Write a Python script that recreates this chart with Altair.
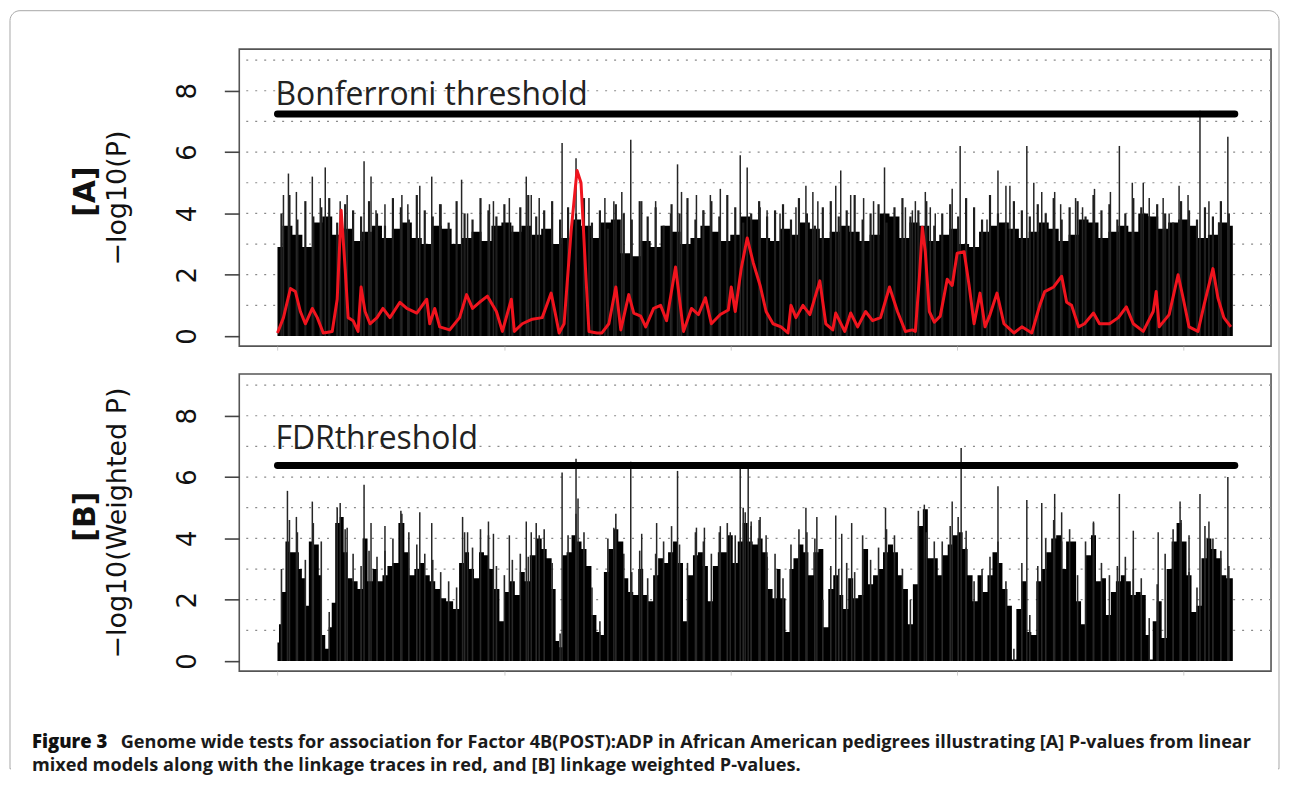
import altair as alt
import pandas as pd

# ---------------- data ----------------
# genome index runs 0..960
x_ticks = [0, 228, 455, 683, 910]
y_ticks = [0, 2, 4, 6, 8]
grid_levels = [1, 2, 3, 4, 5, 6, 7, 8, 9]
bonferroni = 7.24
fdr = 6.38

# [A] solid black envelope, one value every 10 index units
env_a = [2.9, 3.6, 3.3, 2.9, 3.7, 3.9, 3.3, 3.5, 3.1, 3.4,
         3.6, 3.2, 3.5, 3.7, 3.2, 3.0, 3.6, 3.5, 3.0, 3.2,
         3.4, 3.1, 3.6, 3.7, 3.4, 3.6, 3.3, 3.5, 3.0, 3.2,
         3.8, 3.6, 3.2, 3.7, 3.8, 2.7, 2.6, 3.1, 2.9, 3.6,
         3.4, 3.0, 3.2, 3.6, 3.4, 3.1, 3.3, 3.9, 3.8, 3.2,
         3.1, 3.5, 3.3, 3.7, 3.5, 3.2, 3.4, 3.6, 3.4, 3.1,
         3.3, 4.0, 3.9, 3.2, 3.7, 3.6, 3.1, 3.3, 3.5, 3.0,
         2.9, 3.4, 3.6, 3.7, 3.5, 3.2, 3.4, 3.7, 3.5, 3.1,
         3.3, 3.8, 3.7, 3.2, 3.4, 3.6, 3.4, 4.0, 3.9, 3.5,
         3.7, 3.8, 3.6, 3.2, 3.3, 3.7, 3.6]

# [A] dense thin lines above the envelope, one every 8 index units
grass_a = [4.0, 4.6, 3.8, 4.4, 3.9, 4.2, 4.5, 3.7, 4.3, 4.1,
           3.9, 4.4, 4.0, 3.6, 4.5, 4.2, 3.8, 4.6, 4.1, 3.9,
           4.3, 3.7, 4.4, 4.0, 3.8, 4.5, 4.1, 3.9, 4.3, 3.6,
           4.2, 4.6, 3.9, 4.1, 4.4, 3.8, 4.2, 4.0, 4.5, 3.7,
           4.1, 3.5, 4.3, 4.0, 3.8, 4.4, 3.9, 4.2, 3.6, 4.3,
           4.0, 4.5, 3.8, 4.1, 4.4, 3.9, 4.6, 4.2, 3.7, 4.0,
           4.4, 3.9, 4.1, 4.3, 3.8, 4.5, 4.0, 3.6, 4.2, 4.4,
           3.9, 4.1, 4.6, 3.8, 4.0, 4.3, 3.7, 4.2, 4.5, 3.9,
           4.1, 4.4, 3.6, 4.0, 4.3, 3.9, 4.5, 4.2, 3.8, 4.6,
           4.0, 3.7, 4.4, 4.1, 3.9, 4.3, 4.0, 4.5, 3.8, 4.2,
           4.4, 3.9, 4.6, 4.1, 4.3, 3.8, 4.0, 4.5, 4.2, 3.9,
           4.3, 4.0, 3.7, 4.4, 4.1, 3.8, 4.2, 3.9, 4.4, 4.0]

# [A] taller individual spikes
spike_a_x = [6, 11, 19, 35, 43, 48, 63, 70, 87, 94, 99, 108, 125, 131, 143, 155, 163,
             185, 191, 213, 217, 233, 250, 255, 263, 286, 300, 313, 329, 338, 346, 355,
             366, 380, 395, 402, 406, 421, 428, 435, 445, 465, 472, 485, 492, 505, 521,
             531, 538, 543, 561, 566, 576, 589, 599, 610, 631, 638, 641, 651, 656, 661,
             678, 686, 692, 713, 724, 732, 736, 753, 760, 768, 781, 787, 802, 809, 821,
             837, 846, 859, 870, 876, 890, 896, 906, 915, 927, 936, 946, 955]
spike_a_y = [4.6, 5.3, 4.7, 5.2, 4.5, 5.5, 4.4, 4.6, 5.7, 5.2, 4.1, 4.3, 4.6, 4.3, 4.9, 5.2, 4.3,
             5.1, 4.0, 4.3, 4.4, 4.5, 5.2, 4.6, 4.5, 6.3, 5.8, 4.5, 4.5, 4.4, 4.7, 6.4,
             4.4, 4.4, 4.0, 5.6, 4.7, 4.6, 4.1, 4.6, 4.8, 5.9, 5.5, 4.2, 4.1, 4.0, 4.2,
             4.9, 4.7, 4.4, 4.9, 5.4, 4.6, 4.5, 4.4, 5.5, 4.2, 4.1, 4.4, 4.7, 4.2, 4.0,
             4.8, 6.2, 3.8, 3.8, 5.4, 4.9, 4.9, 6.2, 5.0, 4.7, 4.7, 4.3, 4.5, 4.2, 4.8,
             4.7, 6.2, 5.0, 5.0, 4.5, 4.5, 4.0, 4.9, 4.6, 7.35, 4.4, 3.7, 6.5]

# [A] linkage trace (red)
red_x = [0, 6, 13, 18, 23, 28, 35, 40, 46, 55, 60, 64, 68, 71, 76, 81, 84, 88, 93, 100,
         106, 113, 123, 130, 140, 150, 153, 158, 163, 173, 183, 190, 196, 203, 211, 220,
         226, 235, 238, 246, 256, 266, 275, 280, 283, 288, 295, 301, 305, 310, 313, 321,
         326, 333, 340, 345, 353, 358, 365, 370, 378, 385, 391, 400, 408, 416, 423, 430,
         436, 445, 453, 456, 460, 466, 472, 478, 485, 491, 498, 506, 513, 516, 521, 528,
         535, 545, 551, 558, 561, 570, 576, 583, 591, 598, 606, 615, 623, 631, 638, 641,
         645, 648, 651, 655, 660, 666, 673, 678, 683, 690, 695, 700, 706, 711, 716, 723,
         730, 740, 748, 758, 766, 771, 780, 788, 793, 798, 805, 811, 820, 826, 836, 845,
         853, 860, 870, 880, 883, 886, 896, 905, 910, 916, 925, 931, 940, 945, 951, 958]
red_y = [0.1, 0.6, 1.55, 1.45, 0.8, 0.4, 0.9, 0.6, 0.1, 0.15, 1.2, 4.1, 2.2, 0.6, 0.5, 0.15, 1.6, 0.8, 0.4, 0.6,
         0.9, 0.6, 1.1, 0.9, 0.75, 1.2, 0.4, 0.9, 0.3, 0.2, 0.6, 1.35, 0.9, 1.1, 1.3, 0.8,
         0.15, 1.2, 0.15, 0.4, 0.55, 0.6, 1.4, 0.6, 0.1, 0.4, 3.4, 5.4, 5.0, 1.9, 0.15, 0.1,
         0.1, 0.4, 1.6, 0.2, 1.35, 0.75, 0.65, 0.3, 0.9, 1.0, 0.5, 2.25, 0.15, 0.9, 0.7, 1.25,
         0.4, 0.7, 0.85, 1.6, 0.8, 2.2, 3.2, 2.4, 1.65, 0.8, 0.4, 0.3, 0.1, 1.0, 0.6, 1.0,
         0.7, 1.8, 0.4, 0.2, 0.75, 0.15, 0.75, 0.3, 0.8, 0.5, 0.6, 1.6, 0.8, 0.15, 0.2, 0.15,
         1.9, 3.55, 2.75, 0.8, 0.45, 0.65, 1.85, 1.65, 2.7, 2.75, 1.65, 0.4, 1.4, 0.3, 0.7, 1.4,
         0.4, 0.1, 0.3, 0.1, 1.0, 1.45, 1.6, 1.95, 1.1, 1.0, 0.3, 0.4, 0.75, 0.4, 0.4, 0.6,
         0.95, 0.4, 0.15, 0.8, 1.45, 0.3, 0.7, 2.0, 1.25, 0.3, 0.15, 1.0, 2.2, 1.25, 0.6, 0.3]

# [B] profile of the weighted -log10 P bars
prof_b_x = [0, 3, 6, 10, 13, 20, 23, 26, 30, 33, 40, 43, 46, 50, 53, 56, 60, 65, 68, 73,
            78, 83, 88, 93, 98, 103, 108, 113, 118, 125, 130, 135, 140, 145, 150, 156, 161,
            166, 173, 180, 185, 190, 195, 200, 205, 210, 215, 220, 226, 231, 236, 241, 246,
            251, 256, 263, 268, 273, 278, 281, 285, 288, 293, 298, 303, 308, 313, 318, 323,
            326, 330, 335, 340, 345, 350, 355, 360, 365, 370, 375, 380, 385, 390, 395, 400,
            405, 410, 415, 420, 425, 430, 435, 440, 445, 450, 455, 460, 465, 470, 475, 480,
            485, 490, 495, 500, 503, 508, 513, 516, 521, 526, 531, 536, 541, 546, 551, 556,
            561, 566, 571, 576, 581, 586, 591, 596, 601, 606, 611, 616, 621, 626, 631, 636,
            641, 646, 651, 656, 661, 666, 671, 676, 681, 686, 691, 696, 701, 706, 711, 716,
            721, 726, 731, 736, 740, 745, 750, 755, 760, 765, 770, 775, 780, 785, 790, 795,
            800, 805, 810, 815, 820, 825, 830, 835, 840, 845, 850, 855, 860, 865, 870, 875,
            878, 881, 886, 891, 896, 901, 906, 911, 916, 921, 926, 931, 936, 941, 946, 951,
            956, 960]
prof_b_y = [0.6, 1.2, 2.25, 3.9, 3.55, 3.55, 3.0, 2.7, 1.8, 3.9, 3.8, 2.8, 0.85, 0.4, 1.1, 1.9, 4.5, 4.7, 3.55, 2.7,
            2.6, 2.35, 4.0, 2.6, 3.0, 2.6, 2.8, 3.1, 3.2, 4.5, 3.55, 2.8, 3.0, 3.2, 2.8, 2.6, 2.35,
            2.05, 1.95, 1.7, 3.2, 3.55, 3.0, 2.7, 3.55, 3.45, 3.0, 2.35, 1.3, 2.25, 2.6, 2.15, 2.9,
            2.6, 3.45, 4.0, 3.65, 3.35, 2.35, 0.65, 0.45, 3.45, 3.55, 4.1, 3.9, 3.65, 3.1, 1.5, 0.95,
            0.85, 2.9, 3.65, 4.3, 3.9, 2.7, 2.25, 2.15, 3.0, 2.15, 1.95, 2.8, 3.35, 3.2, 3.55, 3.9,
            3.2, 1.3, 2.8, 3.45, 3.55, 3.1, 1.95, 3.1, 3.55, 3.55, 4.1, 3.2, 3.9, 4.5, 3.9, 3.8,
            4.0, 3.55, 2.35, 2.05, 3.0, 2.05, 0.95, 3.0, 3.35, 3.8, 3.55, 2.8, 3.55, 3.65, 1.1, 2.35,
            2.8, 2.15, 1.7, 2.7, 2.05, 2.15, 3.65, 2.5, 2.8, 3.0, 3.55, 3.8, 3.55, 2.8, 2.35, 1.2,
            2.5, 4.4, 4.95, 3.35, 3.35, 2.8, 3.45, 3.8, 4.1, 4.2, 3.65, 2.8, 1.95, 2.8, 2.25, 2.8,
            3.55, 3.2, 2.35, 1.8, 0.05, 1.7, 2.6, 0.95, 0.85, 2.6, 3.0, 3.55, 4.0, 4.1, 3.0, 3.9,
            3.9, 1.95, 1.2, 3.45, 4.1, 2.6, 2.7, 1.5, 2.25, 2.6, 2.8, 2.6, 2.15, 2.25, 2.15, 0.85,
            0.05, 1.3, 1.95, 0.75, 3.0, 3.9, 4.5, 3.9, 2.8, 1.6, 1.8, 3.35, 4.0, 3.65, 3.35, 2.8,
            2.7, 2.7]

# [B] thin lines just above the profile, one every 8 index units
grass_b = [3.0, 4.6, 4.2, 3.3, 4.5, 3.9, 1.6, 5.0, 4.3, 3.5,
           3.1, 3.6, 3.4, 3.6, 4.0, 4.9, 4.2, 3.8, 3.5, 3.3,
           2.9, 2.6, 2.4, 4.2, 3.7, 4.3, 4.1, 3.1, 2.8, 3.3,
           3.5, 3.4, 4.5, 4.3, 3.2, 0.9, 4.1, 4.8, 4.2, 2.4,
           1.3, 4.0, 4.8, 3.5, 2.9, 3.6, 2.7, 3.5, 3.9, 4.4,
           3.8, 3.2, 4.2, 3.9, 3.5, 4.2, 4.5, 4.1, 5.0, 4.4,
           4.6, 3.4, 3.5, 2.7, 3.8, 4.3, 4.2, 4.0, 2.0, 3.1,
           3.0, 3.2, 2.9, 4.1, 3.3, 3.7, 4.3, 4.1, 3.0, 2.0,
           4.9, 4.2, 3.9, 3.9, 4.4, 4.7, 3.7, 2.6, 3.0, 3.4,
           3.9, 2.6, 0.4, 3.2, 1.5, 3.1, 4.0, 4.6, 3.9, 4.3,
           2.8, 3.9, 4.5, 3.2, 2.8, 3.1, 3.4, 3.0, 2.7, 1.4,
           2.5, 3.5, 4.3, 4.6, 2.9, 2.4, 4.4, 4.0, 3.6, 3.1]

# [B] individual spikes
spike_b_x = [10, 19, 35, 63, 70, 87, 94, 108, 125, 143, 155, 186, 191, 212, 217, 233, 250,
             255, 263, 286, 300, 302, 338, 355, 366, 381, 402, 421, 429, 445, 455, 465, 470,
             473, 476, 485, 491, 531, 542, 561, 567, 577, 611, 650, 678, 687, 692, 724, 753,
             768, 781, 788, 820, 846, 860, 885, 907, 916, 927, 936, 955]
spike_b_y = [5.55, 4.7, 5.2, 5.15, 4.35, 5.75, 4.5, 4.4, 4.8, 4.85, 4.5, 4.7, 4.2, 4.55, 4.15, 4.1, 4.55,
             4.2, 4.1, 6.15, 6.6, 5.3, 4.35, 6.5, 4.15, 4.5, 6.2, 4.35, 4.35, 4.4, 4.2, 6.3, 4.85,
             6.35, 4.55, 4.7, 4.1, 5.0, 4.7, 4.75, 4.15, 4.5, 5.0, 5.1, 5.2, 6.95, 4.25, 5.7, 5.25,
             5.15, 5.45, 4.85, 4.55, 5.45, 4.25, 4.2, 5.2, 4.1, 5.45, 4.55, 6.0]

caption_1a = "Figure 3"
caption_1b = ("Genome wide tests for association for Factor 4B(POST):ADP in African American "
              "pedigrees illustrating [A] P-values from linear")
caption_2 = "mixed models along with the linkage traces in red, and [B] linkage weighted P-values."

# ---------------- chart ----------------
W, H = 1035, 298
xs = alt.Scale(domain=[-38.4, 998.4], nice=False, zero=False)
ys = alt.Scale(domain=[-0.33, 9.36], nice=False, zero=False)

x_axis = alt.Axis(values=x_ticks, labels=False, title=None, grid=False, domain=False,
                  ticks=True, tickSize=4, tickColor="#cfcfcf", tickWidth=1)


def y_axis(title):
    return alt.Axis(values=y_ticks, title=title, grid=False, domain=False,
                    tickSize=15, tickWidth=1.6, tickColor="#444",
                    labelFont="DejaVu Sans", labelFontSize=26, labelAngle=270,
                    labelAlign="center", labelBaseline="alphabetic", labelPadding=29,
                    labelColor="#111", labelOverlap=False,
                    titleFont="DejaVu Sans", titleFontSize=27, titleFontWeight="normal",
                    titleColor="#111", titlePadding=43)


def panel(title, tag, env_df, env_interp, lines, red_df, thr, thr_text, thr_text_y,
          extras_before=None, extras_after=None):
    ya = y_axis(title)
    X = alt.X("x:Q", scale=xs, axis=x_axis)
    Y = alt.Y("y:Q", scale=ys, axis=ya)

    layers = []
    if extras_before:
        layers += extras_before
    grid = alt.Chart(pd.DataFrame({"y": grid_levels})).mark_rule(
        color="#8a8a8a", strokeWidth=1.2, strokeDash=[2, 7]).encode(y=Y)
    layers.append(grid)
    env = alt.Chart(env_df).mark_area(color="black", interpolate=env_interp).encode(
        x=X, y=Y, y2=alt.datum(0))
    layers.append(env)
    for df, w, c in lines:
        layers.append(alt.Chart(df).mark_rule(color=c, strokeWidth=w).encode(
            x=X, y=Y, y2=alt.datum(0)))
    if red_df is not None:
        layers.append(alt.Chart(red_df).mark_line(color="#f0141e", strokeWidth=3,
                                                  strokeJoin="round").encode(x=X, y=Y))
    thr_df = pd.DataFrame({"x": [0], "x2": [962], "y": [thr]})
    layers.append(alt.Chart(thr_df).mark_rule(color="black", strokeWidth=7, strokeCap="round").encode(
        x=X, x2="x2:Q", y=Y))
    txt_df = pd.DataFrame({"x": [-2], "y": [thr_text_y], "t": [thr_text]})
    layers.append(alt.Chart(txt_df).mark_text(font="Open Sans", fontSize=32, align="left",
                                              baseline="alphabetic", color="#222").encode(
        x=X, y=Y, text="t:N"))
    tag_df = pd.DataFrame({"t": [tag]})
    layers.append(alt.Chart(tag_df).mark_text(font="DejaVu Sans", fontSize=30, fontWeight="bold",
                                              angle=270, align="center", baseline="middle",
                                              color="#111").encode(
        x=alt.value(-154), y=alt.value(143), text="t:N"))
    if extras_after:
        layers += extras_after
    return alt.layer(*layers).properties(width=W, height=H)


env_a_df = pd.DataFrame({"x": [10 * i for i in range(len(env_a))], "y": env_a})
grass_a_df = pd.DataFrame({"x": [4 + 8 * i for i in range(len(grass_a))], "y": grass_a})
spike_a_df = pd.DataFrame({"x": spike_a_x, "y": spike_a_y})
red_df = pd.DataFrame({"x": red_x, "y": red_y})
prof_b_df = pd.DataFrame({"x": prof_b_x, "y": prof_b_y})
grass_b_df = pd.DataFrame({"x": [4 + 8 * i for i in range(len(grass_b))], "y": grass_b})
spike_b_df = pd.DataFrame({"x": spike_b_x, "y": spike_b_y})

one = pd.DataFrame({"t": [""]})
border = alt.Chart(one).mark_rect(fillOpacity=0, stroke="#a8a8a8", strokeWidth=1,
                                  cornerRadiusTopLeft=10, cornerRadiusTopRight=10).encode(
    x=alt.value(-230), x2=alt.value(1043), y=alt.value(-38.5), y2=alt.value(722))
border_cut = alt.Chart(one).mark_rule(color="white", strokeWidth=3).encode(
    x=alt.value(-229), x2=alt.value(1042), y=alt.value(722))
cap1a = alt.Chart(pd.DataFrame({"t": [caption_1a]})).mark_text(
    font="Open Sans", fontSize=18.6, fontWeight=800, align="left", baseline="alphabetic",
    color="#111").encode(x=alt.value(-208), y=alt.value(701), text="t:N")
cap1b = alt.Chart(pd.DataFrame({"t": [caption_1b]})).mark_text(
    font="Open Sans", fontSize=18.2, fontWeight=700, align="left", baseline="alphabetic",
    color="#1a1a1a").encode(x=alt.value(-119), y=alt.value(701), text="t:N")
cap2 = alt.Chart(pd.DataFrame({"t": [caption_2]})).mark_text(
    font="Open Sans", fontSize=18.2, fontWeight=700, align="left", baseline="alphabetic",
    color="#1a1a1a").encode(x=alt.value(-208), y=alt.value(724), text="t:N")

panel_a = panel("\u2212log10(P)", "[A]", env_a_df, "step",
                [(grass_a_df, 2.2, "#1e1e1e"), (spike_a_df, 1.5, "#262626")],
                red_df, bonferroni, "Bonferroni threshold", 7.55,
                extras_before=[border, border_cut],
                extras_after=[cap1a, cap1b, cap2])

panel_b = panel("\u2212log10(Weighted P)", "[B]", prof_b_df, "step",
                [(grass_b_df, 1.6, "#2a2a2a"), (spike_b_df, 1.5, "#262626")],
                None, fdr, "FDRthreshold", 6.9)

chart = alt.vconcat(panel_a, panel_b, spacing=28, bounds="flush").properties(
    padding={"left": 0, "top": 0, "right": 0, "bottom": 0},
    background="white",
).configure_view(stroke="#555", strokeWidth=1.6)

chart.save("out.html", embed_options={"renderer": "svg", "actions": False})
